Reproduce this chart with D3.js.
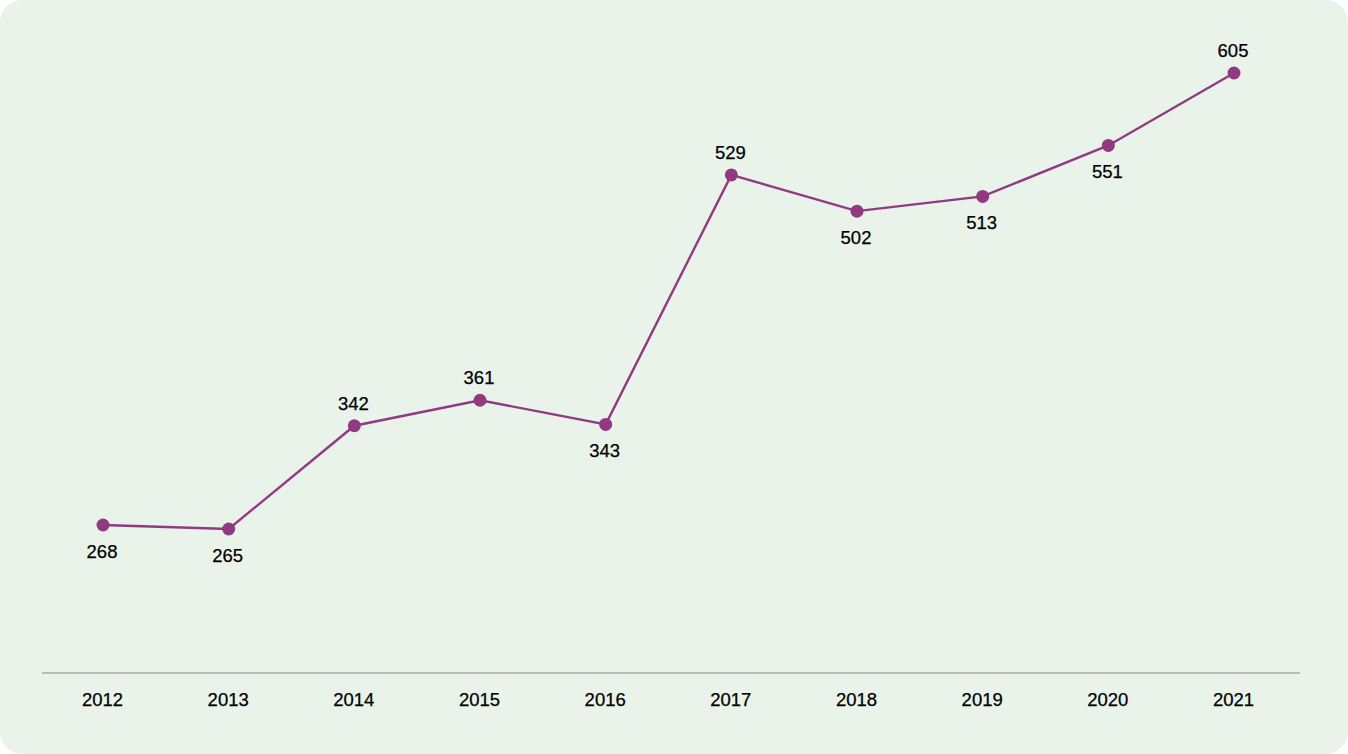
<!DOCTYPE html>
<html>
<meta charset="utf-8">
<script src="https://d3js.org/d3.v7.min.js"></script>
<style>
  body { margin: 0; background: #fff; }
  text { font-family: "Liberation Sans", Arial, sans-serif; }
</style>
<body>
<div id="chart"></div>
<script>

// data
var years = ["2012", "2013", "2014", "2015", "2016", "2017", "2018", "2019", "2020", "2021"];
var values = [268, 265, 342, 361, 343, 529, 502, 513, 551, 605];
// which side of the point each value label sits on
var labelSide = ["below", "below", "above", "above", "below", "above", "below", "below", "below", "above"];

var W = 1348, H = 754;

var svg = d3.select("#chart")
  .append("svg")
    .attr("width", W)
    .attr("height", H);

// panel background
svg.append("rect")
  .attr("x", 0).attr("y", 0)
  .attr("width", W).attr("height", H)
  .attr("rx", 22)
  .attr("fill", "#eaf3ea");

// scales
var x = d3.scalePoint()
  .domain(years)
  .range([103, 1234]);

var y = d3.scaleLinear()
  .domain([265, 605])
  .range([529, 73]);

// x axis line + year labels
svg.append("line")
  .attr("x1", 42).attr("x2", 1300)
  .attr("y1", 673).attr("y2", 673)
  .attr("stroke", "#a9aba6")
  .attr("stroke-width", 1.5);

var xAxis = svg.append("g")
  .attr("transform", "translate(-1,673)")
  .call(d3.axisBottom(x).tickSize(0).tickPadding(20));
xAxis.select(".domain").remove();
xAxis.selectAll("text")
  .attr("font-size", 18.5)
  .attr("fill", "#000")
  .attr("stroke", "#000")
  .attr("stroke-width", 0.25)
  .style("font-family", "'Liberation Sans', Arial, sans-serif");

// line
var line = d3.line()
  .x(function(d, i) { return x(years[i]); })
  .y(function(d) { return y(d); });

svg.append("path")
  .datum(values)
  .attr("d", line)
  .attr("fill", "none")
  .attr("stroke", "#913a82")
  .attr("stroke-width", 2.4);

// dots
svg.selectAll("circle.dot")
  .data(values)
  .enter()
  .append("circle")
    .attr("class", "dot")
    .attr("cx", function(d, i) { return x(years[i]); })
    .attr("cy", function(d) { return y(d); })
    .attr("r", 6.5)
    .attr("fill", "#913a82");

// value labels
svg.selectAll("text.val")
  .data(values)
  .enter()
  .append("text")
    .attr("class", "val")
    .attr("x", function(d, i) { return x(years[i]) - 1; })
    .attr("y", function(d, i) { return y(d) + (labelSide[i] == "above" ? -16 : 33); })
    .attr("text-anchor", "middle")
    .attr("font-size", 18.5)
    .attr("fill", "#000")
    .attr("stroke", "#000")
    .attr("stroke-width", 0.25)
    .text(function(d) { return d; });

</script>
</body>
</html>
